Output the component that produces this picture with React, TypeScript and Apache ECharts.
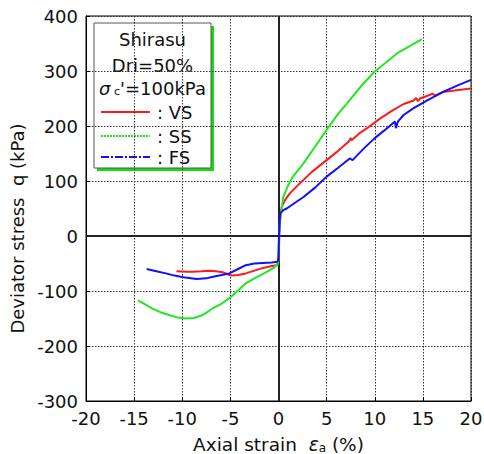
import React, { useEffect, useRef } from "react";
import * as echarts from "echarts";

const xTicks = { min: -20, max: 20, interval: 5 };
const yTicks = { min: -300, max: 400, interval: 100 };

const seriesNames = ["VS", "SS", "FS"];

const vsStrain = [-10.6, -9.5, -8.9, -8.0, -7.2, -6.5, -5.8, -5.2, -4.9, -4.2, -3.4, -2.5, -1.6, -0.8, -0.2, 0, 0.05, 0.1, 0.2, 0.33, 0.7, 1.2, 2.0, 2.6, 3.5, 5.0, 6.0, 7.3, 7.5, 7.6, 8.5, 9.2, 10.5, 11.9, 13.0, 14.0, 14.3, 14.5, 14.7, 15.5, 16.0, 16.3, 17.1, 18.5, 20];
const vsStress = [-64, -65, -65, -64, -63, -64, -66, -70, -72, -71, -68, -63, -58, -55, -53, -48, -20, 10, 35, 53, 66, 78, 92, 102, 117, 138, 152, 172, 178, 174, 188, 196, 213, 229, 240, 246, 251, 245, 250, 255, 259, 255, 262, 265, 268];

const ssStrain = [-14.6, -13.9, -13.1, -12.2, -11.3, -10.5, -9.6, -8.8, -7.9, -7.2, -6.8, -6.0, -5.1, -4.2, -3.4, -2.5, -1.6, -0.6, -0.1, 0, 0.05, 0.16, 0.5, 1.0, 1.5, 2.6, 3.5, 5.0, 6.2, 7.4, 8.7, 10.0, 11.2, 12.3, 13.5, 14.9];
const ssStress = [-117, -124, -132, -139, -144, -148, -150, -149, -144, -136, -131, -124, -113, -99, -86, -77, -69, -59, -52, -40, 0, 29, 71, 92, 108, 132, 155, 193, 222, 247, 275, 299, 316, 332, 344, 358];

const fsStrain = [-13.7, -12.7, -11.7, -10.8, -9.9, -8.5, -7.5, -6.8, -5.9, -5.1, -4.2, -3.4, -2.5, -1.6, -0.7, -0.1, 0, 0.05, 0.16, 0.5, 0.85, 1.6, 2.6, 3.8, 5.0, 6.2, 7.4, 7.7, 8.8, 10.0, 11.0, 12.1, 12.2, 12.4, 13.0, 14.0, 15.5, 17.1, 18.5, 20];
const fsStress = [-60, -64, -68, -72, -75, -78, -77, -74, -71, -68, -60, -53, -50, -49, -48, -47, -40, 0, 41, 47, 50, 59, 71, 88, 108, 124, 141, 138, 158, 178, 192, 208, 196, 208, 220, 232, 247, 262, 273, 284];

const colors = ["#ff1a1a", "#22e622", "#1010ff"];
const FONT = "DejaVu Sans";

function pairs(xs: number[], ys: number[]) {
  return xs.map((x, i) => [x, ys[i]]);
}

export default function App() {
  const ref = useRef<HTMLDivElement>(null);
  useEffect(() => {
    if (!ref.current) return;
    const chart = echarts.init(ref.current, null, { renderer: "svg" });
    const datasets = [pairs(vsStrain, vsStress), pairs(ssStrain, ssStress), pairs(fsStrain, fsStress)];
    const axisCommon = {
      type: "value" as const,
      axisLine: { show: true, onZero: false, lineStyle: { color: "#000", width: 1 } },
      axisTick: { show: true, inside: true, length: 4, lineStyle: { color: "#000" } },
      splitLine: { show: true, lineStyle: { color: "#333", type: [1.5, 1.5], width: 1 } },
      axisLabel: { color: "#111", fontFamily: FONT, fontSize: 18 },
    };
    const legendRows = [112, 136, 157];
    const legendDash: any[] = [null, [2, 1], [8, 2, 2, 2]];
    const legendChildren: any[] = [
      { type: "rect", shape: { x: 97, y: 26, width: 117, height: 145 }, style: { fill: "#11dd11" } },
      { type: "rect", shape: { x: 94, y: 23, width: 117, height: 145 }, style: { fill: "#fff", stroke: "#555", lineWidth: 1 } },
      { type: "text", x: 152.5, y: 39, style: { text: "Shirasu", fontFamily: FONT, fontSize: 18, fill: "#111", align: "center", verticalAlign: "middle" } },
      { type: "text", x: 152.5, y: 65, style: { text: "Dri=50%", fontFamily: FONT, fontSize: 18, fill: "#111", align: "center", verticalAlign: "middle" } },
      {
        type: "text", x: 152.5, y: 88,
        style: {
          text: "{s|σ}{c| c}{t|'=100kPa}",
          align: "center", verticalAlign: "middle",
          rich: {
            s: { fontFamily: FONT, fontSize: 18, fontStyle: "italic", fill: "#111" },
            c: { fontFamily: FONT, fontSize: 11, fill: "#111", padding: [6, 0, 0, 0] },
            t: { fontFamily: FONT, fontSize: 18, fill: "#111" },
          },
        },
      },
    ];
    seriesNames.forEach((n, i) => {
      legendChildren.push({
        type: "line",
        shape: { x1: 101, y1: legendRows[i], x2: 150, y2: legendRows[i] },
        style: { stroke: colors[i], lineWidth: 2, lineDash: legendDash[i] },
      });
      legendChildren.push({
        type: "text", x: 157, y: legendRows[i],
        style: { text: ": " + n, fontFamily: FONT, fontSize: 18, fill: "#111", align: "left", verticalAlign: "middle" },
      });
    });

    chart.setOption({
      animation: false,
      backgroundColor: "#fff",
      grid: { left: 86, right: 13, top: 16, bottom: 53, show: true, borderColor: "#000", borderWidth: 1, containLabel: false, outerBoundsMode: "none" },
      xAxis: {
        ...axisCommon,
        min: xTicks.min, max: xTicks.max, interval: xTicks.interval,
        axisLabel: { ...axisCommon.axisLabel, margin: 8 },
        name: "Axial strain  {e|ε}{a|a} (%)",
        nameLocation: "middle",
        nameGap: 34,
        nameTextStyle: {
          fontFamily: FONT, fontSize: 18.5, color: "#111",
          rich: {
            e: { fontFamily: FONT, fontSize: 18.5, fontStyle: "italic", color: "#111" },
            a: { fontFamily: FONT, fontSize: 12, color: "#111", padding: [6, 0, 0, 0] },
          },
        },
      },
      yAxis: {
        ...axisCommon,
        min: yTicks.min, max: yTicks.max, interval: yTicks.interval,
        axisLabel: { ...axisCommon.axisLabel, margin: 8 },
        name: "Deviator stress  q (kPa)",
        nameLocation: "middle",
        nameRotate: 90,
        nameGap: 56,
        nameTextStyle: { fontFamily: FONT, fontSize: 18, color: "#111", padding: [0, 40, 0, 0] },
      },
      graphic: [{ type: "group", children: legendChildren, z: 100 }],
      series: seriesNames.map((n, i) => ({
        name: n,
        type: "line",
        data: datasets[i],
        showSymbol: false,
        symbol: "none",
        lineStyle: { color: colors[i], width: 2 },
        z: 3 + i,
        markLine: i === 0 ? {
          silent: true,
          symbol: "none",
          label: { show: false },
          lineStyle: { color: "#222", type: "solid", width: 2 },
          data: [{ xAxis: 0 }, { yAxis: 0 }],
          z: 1,
        } : undefined,
      })),
    });
    return () => chart.dispose();
  }, []);
  return <div ref={ref} style={{ width: 484, height: 454, position: "absolute", left: 0, top: 0 }} />;
}
